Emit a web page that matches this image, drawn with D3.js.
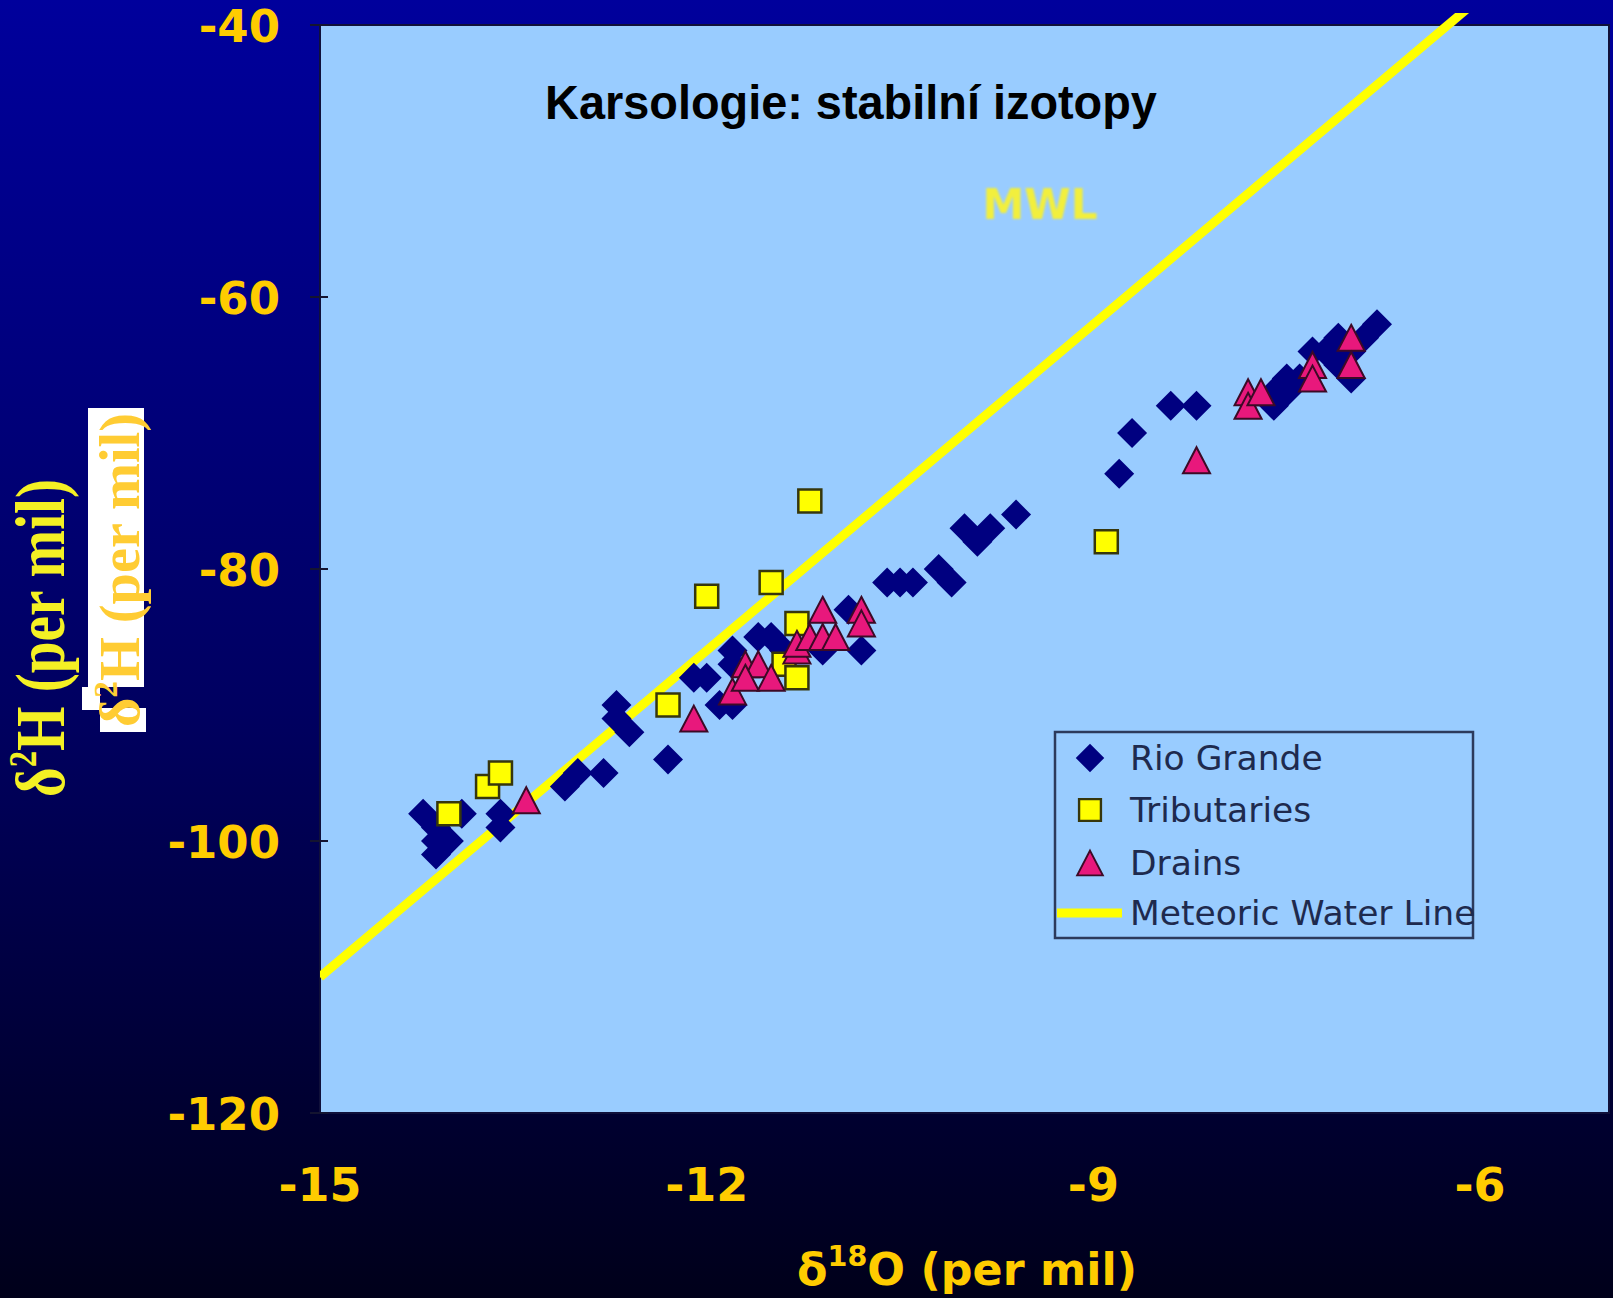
<!DOCTYPE html>
<html>
<head>
<meta charset="utf-8">
<script src="https://cdn.jsdelivr.net/npm/d3@7"></script>
<style>
  html, body { margin: 0; padding: 0; background: #000060; }
  svg { display: block; }
</style>
</head>
<body>
<script>
// Stable isotopes: δ18O vs δ2H for river, tributary and drain samples
const xTicks = [-15, -12, -9, -6];
const yTicks = [-40, -60, -80, -100, -120];

const rioGrande = [
  [-14.2, -98], [-14.1, -99], [-14.0, -100], [-14.1, -101], [-14.1, -100], [-13.9, -98],
  [-13.6, -98], [-13.6, -99], [-13.1, -96], [-13.0, -95], [-12.8, -95],
  [-12.7, -90], [-12.7, -91], [-12.6, -92], [-12.3, -94], [-12.1, -88],
  [-12.0, -88], [-11.9, -90], [-11.8, -90], [-11.8, -86], [-11.8, -87],
  [-11.6, -85], [-11.5, -85], [-11.4, -86], [-11.1, -86], [-10.9, -83], [-10.8, -86],
  [-10.6, -81], [-10.5, -81], [-10.4, -81], [-10.2, -80], [-10.1, -81],
  [-10.0, -77], [-9.9, -78], [-9.8, -77], [-9.6, -76],
  [-8.8, -73], [-8.7, -70], [-8.4, -68], [-8.2, -68],
  [-7.6, -68], [-7.6, -67], [-7.5, -67], [-7.5, -66], [-7.4, -66],
  [-7.3, -64], [-7.2, -64], [-7.1, -65], [-7.1, -63], [-7.0, -64],
  [-7.0, -66], [-6.9, -63], [-6.8, -62]
];

const tributaries = [
  [-14.0, -98], [-13.7, -96], [-13.6, -95], [-12.3, -90], [-12.0, -82],
  [-11.5, -81], [-11.2, -75], [-11.3, -84], [-11.4, -87], [-11.3, -88], [-8.9, -78]
];

const drains = [
  [-13.4, -97], [-12.1, -91], [-11.8, -89], [-11.7, -87], [-11.6, -87],
  [-11.7, -88], [-11.5, -88], [-11.3, -86], [-11.3, -85.5], [-11.2, -85], [-11.1, -85],
  [-11.0, -85], [-11.1, -83], [-10.8, -83], [-10.8, -84],
  [-8.2, -72], [-7.8, -67], [-7.8, -68], [-7.7, -67], [-7.3, -65], [-7.3, -66],
  [-7.0, -63], [-7.0, -65]
];

// Meteoric water line end points (δ18O, δ2H)
const mwlLine = [[-15, -110], [-6.1, -38.8]];

const legendItems = ["Rio Grande", "Tributaries", "Drains", "Meteoric Water Line"];

const W = 1613, H = 1298;
const plot = { left: 320, top: 25, right: 1609, bottom: 1113 };

const x = d3.scaleLinear().domain([-15, -5]).range([plot.left, plot.right]);
const y = d3.scaleLinear().domain([-120, -40]).range([plot.bottom, plot.top]);

const svg = d3.select("body").append("svg").attr("width", W).attr("height", H);
const defs = svg.append("defs");

const grad = defs.append("linearGradient").attr("id", "bg").attr("x1", 0).attr("y1", 0).attr("x2", 0).attr("y2", 1);
grad.append("stop").attr("offset", "0%").attr("stop-color", "#00009c");
grad.append("stop").attr("offset", "55%").attr("stop-color", "#000060");
grad.append("stop").attr("offset", "100%").attr("stop-color", "#00001a");

defs.append("filter").attr("id", "soft").append("feGaussianBlur").attr("stdDeviation", 1.1);

defs.append("clipPath").attr("id", "lineClip").append("rect")
  .attr("x", plot.left).attr("y", 13).attr("width", W - plot.left).attr("height", H);

svg.append("rect").attr("width", W).attr("height", H).attr("fill", "url(#bg)");

// plot area
svg.append("rect")
  .attr("x", plot.left).attr("y", plot.top)
  .attr("width", plot.right - plot.left).attr("height", plot.bottom - plot.top)
  .attr("fill", "#99ccff").attr("stroke", "#10103a").attr("stroke-width", 2);

// y ticks
svg.append("g").selectAll("line").data(yTicks).join("line")
  .attr("x1", plot.left - 10).attr("x2", plot.left + 8)
  .attr("y1", d => y(d)).attr("y2", d => y(d))
  .attr("stroke", "#141430").attr("stroke-width", 2);

// tick labels
const tickFont = "'DejaVu Sans', Verdana, sans-serif";
svg.append("g").selectAll("text").data(yTicks).join("text")
  .attr("x", 280).attr("y", d => y(d) + 17)
  .attr("text-anchor", "end")
  .attr("font-family", tickFont).attr("font-weight", "bold").attr("font-size", 45)
  .attr("fill", "#ffcc00")
  .text(d => d);

svg.append("g").selectAll("text").data(xTicks).join("text")
  .attr("x", d => x(d)).attr("y", 1201)
  .attr("text-anchor", "middle")
  .attr("font-family", tickFont).attr("font-weight", "bold").attr("font-size", 46)
  .attr("fill", "#ffcc00")
  .text(d => d);

// fits a text element to a target length along its own baseline
function fitLength(sel, target) {
  const len = sel.node().getComputedTextLength();
  return len > 0 ? target / len : 1;
}

// x axis title
const xt = svg.append("text")
  .attr("text-anchor", "middle")
  .attr("font-family", tickFont).attr("font-weight", "bold").attr("font-size", 45)
  .attr("fill", "#ffcc00");
xt.append("tspan").text("δ");
xt.append("tspan").attr("font-size", 29).attr("dy", -19).text("18");
xt.append("tspan").attr("dy", 19).text("O (per mil)");
{
  const s = fitLength(xt, 340);
  xt.attr("transform", `translate(967,1285) scale(${s},1)`);
}

// secondary y label with white backing
const ghost = svg.append("g");
[[88, 408, 56, 279], [82, 687, 18, 23], [100, 708, 46, 24]].forEach(r =>
  ghost.append("rect").attr("x", r[0]).attr("y", r[1]).attr("width", r[2]).attr("height", r[3]).attr("fill", "#ffffff"));
const gt = ghost.append("text")
  .attr("text-anchor", "middle")
  .attr("font-family", "'Liberation Serif', 'Times New Roman', serif").attr("font-weight", "bold")
  .attr("font-size", 56).attr("fill", "#ffcc33");
gt.append("tspan").text("δ");
gt.append("tspan").attr("font-size", 33).attr("dy", -22).text("2");
gt.append("tspan").attr("dy", 22).text("H (per mil)");
{
  const s = fitLength(gt, 314);
  gt.attr("transform", `translate(139,570) rotate(-90) scale(${s},1)`);
}

// main y axis title
const yt = svg.append("text")
  .attr("text-anchor", "middle")
  .attr("font-family", "'Liberation Serif', 'Times New Roman', serif").attr("font-weight", "bold")
  .attr("font-size", 70).attr("fill", "#f4f024");
yt.append("tspan").text("δ");
yt.append("tspan").attr("font-size", 40).attr("dy", -28).text("2");
yt.append("tspan").attr("dy", 28).text("H (per mil)");
{
  const s = fitLength(yt, 318);
  yt.attr("transform", `translate(64,638) rotate(-90) scale(${s},1)`);
}

// chart title
const title = svg.append("text")
  .attr("text-anchor", "middle")
  .attr("font-family", "'Liberation Sans', Arial, sans-serif").attr("font-weight", "bold")
  .attr("font-size", 49).attr("fill", "#000000")
  .text("Karsologie: stabilní izotopy");
{
  const s = fitLength(title, 612);
  title.attr("transform", `translate(851,119) scale(${s},1)`);
}

// MWL label
svg.append("text")
  .attr("x", 1040).attr("y", 219)
  .attr("text-anchor", "middle")
  .attr("font-family", tickFont).attr("font-weight", "bold").attr("font-size", 42)
  .attr("fill", "#f2ef3c").attr("filter", "url(#soft)")
  .text("MWL");

// meteoric water line
const line = d3.line().x(d => x(d[0])).y(d => y(d[1]));
svg.append("path")
  .datum(mwlLine)
  .attr("d", line)
  .attr("clip-path", "url(#lineClip)")
  .attr("fill", "none").attr("stroke", "#ffff00").attr("stroke-width", 9);

// marker shapes
const diamondType = { draw(c, s) { const r = Math.sqrt(s) / 2; c.moveTo(0, -r); c.lineTo(r, 0); c.lineTo(0, r); c.lineTo(-r, 0); c.closePath(); } };
const triangleType = { draw(c, s) { const r = Math.sqrt(s) / 2; c.moveTo(0, -r); c.lineTo(r * 1.04, r); c.lineTo(-r * 1.04, r); c.closePath(); } };

const diamondPath = d3.symbol().type(diamondType).size(30 * 30)();
const squarePath = d3.symbol().type(d3.symbolSquare).size(23 * 23)();
const trianglePath = d3.symbol().type(triangleType).size(26 * 26)();

const styles = {
  rio: { d: diamondPath, fill: "#000080", stroke: "none", sw: 0 },
  trib: { d: squarePath, fill: "#ffff00", stroke: "#36360c", sw: 2.5 },
  drain: { d: trianglePath, fill: "#e8187c", stroke: "#3c0a26", sw: 2 }
};

function drawSeries(data, st) {
  svg.append("g").selectAll("path").data(data).join("path")
    .attr("transform", d => `translate(${x(d[0])},${y(d[1])})`)
    .attr("d", st.d)
    .attr("fill", st.fill).attr("stroke", st.stroke).attr("stroke-width", st.sw);
}
drawSeries(rioGrande, styles.rio);
drawSeries(tributaries, styles.trib);
drawSeries(drains, styles.drain);

// legend
const lg = svg.append("g");
lg.append("rect")
  .attr("x", 1055).attr("y", 732).attr("width", 418).attr("height", 206)
  .attr("fill", "none").attr("stroke", "#2c3a5c").attr("stroke-width", 2.5);
const rowY = [758, 810, 863, 913];
[styles.rio, styles.trib, styles.drain].forEach((st, i) => {
  lg.append("path")
    .attr("d", st.d).attr("fill", st.fill).attr("stroke", st.stroke).attr("stroke-width", st.sw)
    .attr("transform", `translate(1090,${rowY[i]}) scale(0.95)`);
});
lg.append("line").attr("x1", 1057).attr("x2", 1122).attr("y1", rowY[3]).attr("y2", rowY[3])
  .attr("stroke", "#ffff00").attr("stroke-width", 9);
lg.selectAll("text.item").data(legendItems).join("text")
  .attr("class", "item")
  .attr("x", 1130).attr("y", (d, i) => rowY[i] + 12)
  .attr("font-family", tickFont).attr("font-size", 34.5).attr("fill", "#1e2a4e")
  .text(d => d);
</script>
</body>
</html>
